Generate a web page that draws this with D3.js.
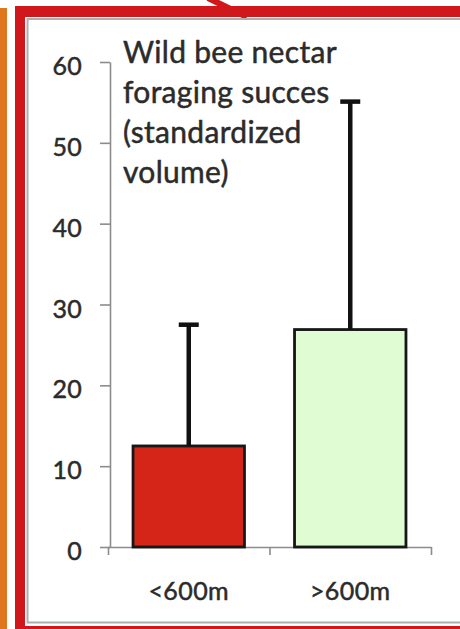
<!DOCTYPE html>
<html><head><meta charset="utf-8">
<script src="https://cdn.jsdelivr.net/npm/d3@7"></script>
<style>
html,body{margin:0;padding:0;background:#fff;}
svg{display:block;}
text{font-family:Lato,"Open Sans",sans-serif;fill:#2b2b2b;stroke:#2b2b2b;stroke-width:0.5px;}
</style></head>
<body>
<svg id="chart" width="460" height="629"></svg>
<script>
const categories = ["<600m", ">600m"];
const means = [12.5, 26.9];
const errors = [15.0, 28.2];
const yTicks = [0, 10, 20, 30, 40, 50, 60];
const titleLines = ["Wild bee nectar", "foraging succes", "(standardized", "volume)"];
const barColors = ["#d42518", "#e0fcd2"];

const svg = d3.select("#chart");

// frame decorations
svg.append("rect").attr("x", 0).attr("y", 8).attr("width", 7).attr("height", 629).attr("fill", "#e0761e");
svg.append("line").attr("x1", 20).attr("y1", 12).attr("x2", 20).attr("y2", 629).attr("stroke", "#d0171b").attr("stroke-width", 10);
svg.append("line").attr("x1", 15).attr("y1", 11.5).attr("x2", 460).attr("y2", 11.5).attr("stroke", "#d0171b").attr("stroke-width", 11);
svg.append("line").attr("x1", 25).attr("y1", 627.5).attr("x2", 460).attr("y2", 627.5).attr("stroke", "#d0171b").attr("stroke-width", 3);
svg.append("line").attr("x1", 208).attr("y1", -2).attr("x2", 247).attr("y2", 17).attr("stroke", "#d0171b").attr("stroke-width", 6);
svg.append("path").attr("d", "M460,19H27.5V622.5H460").attr("fill", "none").attr("stroke", "#aab0b0").attr("stroke-width", 2);

const y = d3.scaleLinear().domain([0, 60]).range([547, 62]);
const x = d3.scaleBand().domain(categories).range([108, 431]).paddingInner(0.31).paddingOuter(0.155);
const xb = d3.scaleLinear().domain([0, categories.length]).range([108, 431]);

// y axis
const yAxis = svg.append("g").attr("transform", "translate(110,0)")
  .call(d3.axisLeft(y).tickValues(yTicks).tickSize(10).tickSizeOuter(0).tickPadding(18));
yAxis.selectAll("path,line").attr("stroke", "#8c8c8c").attr("stroke-width", 1.6);
yAxis.selectAll("text").attr("font-size", 25).attr("dy", "0.5em")
  .style("font-family", "Lato").style("fill", "#2b2b2b").style("letter-spacing", "0.3px");

// x axis (category boundaries)
const xAxis = svg.append("g").attr("transform", "translate(0,547)")
  .call(d3.axisBottom(xb).tickValues(d3.range(categories.length + 1)).tickSize(8).tickSizeOuter(0).tickFormat(""));
xAxis.selectAll("path,line").attr("stroke", "#8c8c8c").attr("stroke-width", 1.6);

// bars
svg.selectAll("rect.bar").data(categories).enter().append("rect")
  .attr("class", "bar")
  .attr("x", d => x(d))
  .attr("width", x.bandwidth())
  .attr("y", (d, i) => y(means[i]))
  .attr("height", (d, i) => y(0) - y(means[i]))
  .attr("fill", (d, i) => barColors[i])
  .attr("stroke", "#161616").attr("stroke-width", 2.8);

// error bars
const g = svg.selectAll("g.err").data(categories).enter().append("g").attr("class", "err");
g.append("line")
  .attr("x1", d => x(d) + x.bandwidth() / 2).attr("x2", d => x(d) + x.bandwidth() / 2)
  .attr("y1", (d, i) => y(means[i])).attr("y2", (d, i) => y(means[i] + errors[i]))
  .attr("stroke", "#111").attr("stroke-width", 4.5);
g.append("line")
  .attr("x1", d => x(d) + x.bandwidth() / 2 - 10).attr("x2", d => x(d) + x.bandwidth() / 2 + 10)
  .attr("y1", (d, i) => y(means[i] + errors[i])).attr("y2", (d, i) => y(means[i] + errors[i]))
  .attr("stroke", "#111").attr("stroke-width", 4.5);

// x labels
svg.selectAll("text.xl").data(categories).enter().append("text")
  .attr("class", "xl")
  .attr("x", d => x(d) + x.bandwidth() / 2)
  .attr("y", 600)
  .attr("text-anchor", "middle")
  .attr("font-size", 25)
  .style("letter-spacing", "0.4px")
  .text(d => d);

// title
svg.append("text").attr("x", 123).attr("y", 63).attr("font-size", 30)
  .style("letter-spacing", "0.3px")
  .selectAll("tspan").data(titleLines).enter().append("tspan")
  .attr("x", 123).attr("dy", (d, i) => i === 0 ? 0 : 40).text(d => d);
</script>
</body></html>
